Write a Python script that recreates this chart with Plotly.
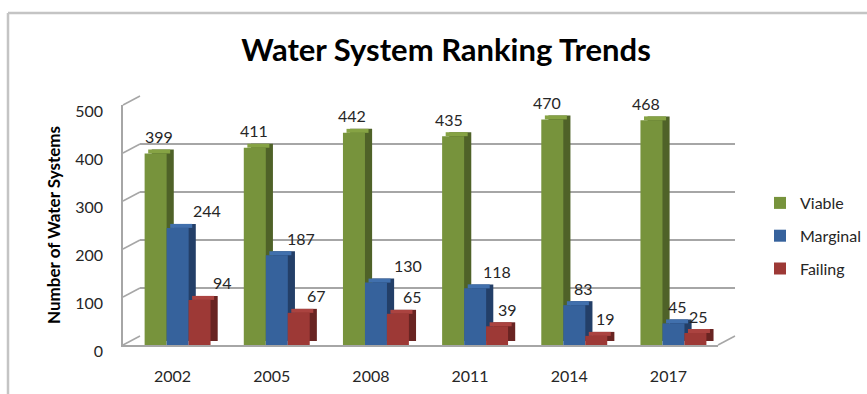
import plotly.graph_objects as go

# ---------------- data ----------------
years = ["2002", "2005", "2008", "2011", "2014", "2017"]
viable = [399, 411, 442, 435, 470, 468]
marginal = [244, 187, 130, 118, 83, 45]
failing = [94, 67, 65, 39, 19, 25]
series_names = ["Viable", "Marginal", "Failing"]
y_ticks = [0, 100, 200, 300, 400, 500]

# ---------------- style ----------------
FONT = "Lato"
front_colors = ["#77933c", "#36629c", "#9d3936"]
top_colors = ["#86a344", "#4170ad", "#ab4340"]
side_colors = ["#4f6228", "#233f68", "#692422"]
bar_offsets = [-0.282, -0.060, 0.161]   # category units
BAR_W = 0.222
DEPTH_X = 0.072                          # category units (~7 px)
DEPTH_Y = 8.3                            # value units (~4 px)
# data-label horizontal placement (px from category centre), per series
label_dx = [
    [-14, -18, -19, -21, -22, -22],
    [34, 29, 37, 27, 14, 9],
    [50, 45, 42, 37, 36, 30],
]
LABEL_DY = 17

# pixel geometry of the "paper" area
L, R, T, B = 123, 132, 96, 49
W, H = 867, 394
PW = W - L - R          # 612
PH = H - T - B          # 249
PX_PER_UNIT = 240 / 500


def px_x(p):
    return (p - L) / PW


def px_y(p):
    return (H - B - p) / PH


fig = go.Figure()

# empty trace so the back-wall grid subplot is rendered
fig.add_trace(go.Scatter(x=[None], y=[None], xaxis="x", yaxis="y",
                         showlegend=False, hoverinfo="skip"))

all_vals = [viable, marginal, failing]
for k, (name, vals) in enumerate(zip(series_names, all_vals)):
    # side (depth) face
    fig.add_trace(go.Bar(
        x=years, y=vals, base=[DEPTH_Y] * len(vals),
        width=BAR_W, offset=bar_offsets[k] + DEPTH_X,
        marker=dict(color=side_colors[k], line=dict(width=0)),
        xaxis="x2", yaxis="y2", showlegend=False, hoverinfo="skip",
        legendgroup=name,
    ))
    # top face
    fig.add_trace(go.Bar(
        x=years, y=[DEPTH_Y] * len(vals), base=vals,
        width=BAR_W, offset=bar_offsets[k] + DEPTH_X / 2,
        marker=dict(color=top_colors[k], line=dict(width=0)),
        xaxis="x2", yaxis="y2", showlegend=False, hoverinfo="skip",
        legendgroup=name,
    ))
    # front face
    fig.add_trace(go.Bar(
        x=years, y=vals, name=name,
        width=BAR_W, offset=bar_offsets[k],
        marker=dict(color=front_colors[k], line=dict(width=0)),
        xaxis="x2", yaxis="y2", legendgroup=name,
    ))

annotations = []
for k, vals in enumerate(all_vals):
    for i, v in enumerate(vals):
        annotations.append(dict(
            x=i, y=v, xref="x2", yref="y2", text=str(v), showarrow=False,
            xshift=label_dx[k][i], yshift=LABEL_DY, yanchor="middle",
            font=dict(family=FONT, size=16, color="#262626"),
        ))

shapes = []
line_col = "#a6a6a6"
# side wall diagonals
for v in y_ticks:
    shapes.append(dict(
        type="line", xref="paper", yref="paper",
        x0=px_x(L), y0=px_y(H - B - v * PX_PER_UNIT),
        x1=px_x(140), y1=px_y(H - B - 9 - v * PX_PER_UNIT),
        line=dict(color=line_col, width=1.5),
    ))
# floor right edge
shapes.append(dict(
    type="line", xref="paper", yref="paper",
    x0=px_x(718), y0=px_y(345), x1=px_x(735), y1=px_y(336),
    line=dict(color=line_col, width=1.5),
))
# outer chart border (left and top)
shapes.append(dict(type="line", xref="paper", yref="paper",
                   x0=px_x(8), y0=px_y(13), x1=px_x(8), y1=px_y(400),
                   line=dict(color="#c4c4c4", width=2.5)))
shapes.append(dict(type="line", xref="paper", yref="paper",
                   x0=px_x(8), y0=px_y(13), x1=px_x(870), y1=px_y(13),
                   line=dict(color="#c4c4c4", width=2.5)))

fig.update_layout(
    width=W, height=H,
    margin=dict(l=L, r=R, t=T, b=B, autoexpand=False),
    paper_bgcolor="white", plot_bgcolor="rgba(0,0,0,0)",
    barmode="overlay",
    font=dict(family=FONT, size=16, color="#262626"),
    title=dict(text="<b>Water System Ranking Trends</b>",
               x=446 / W, xref="container", xanchor="center",
               y=1 - 50 / H, yref="container", yanchor="middle",
               font=dict(family=FONT, size=31, color="#000000")),
    # back-wall grid subplot
    xaxis=dict(domain=[px_x(140), px_x(735)], range=[0, 1], visible=False,
               fixedrange=True, anchor="y"),
    yaxis=dict(domain=[px_y(336), px_y(96)], range=[-0.5, 500.5],
               tickvals=y_ticks, showticklabels=False, showgrid=True,
               gridcolor=line_col, gridwidth=1.5, zeroline=False,
               showline=False, anchor="x", fixedrange=True),
    # bars subplot
    xaxis2=dict(domain=[0, px_x(718)], range=[-0.5, 5.5], type="category",
                anchor="y2", showline=True, linecolor=line_col, linewidth=1.5,
                showgrid=False, ticks="", ticklabelstandoff=16,
                tickfont=dict(family=FONT, size=16, color="#262626")),
    yaxis2=dict(domain=[0, px_y(105)], range=[0, 500], anchor="x2",
                tickvals=y_ticks, showgrid=False, zeroline=False,
                showline=True, linecolor=line_col, linewidth=1.5, ticks="",
                ticklabelstandoff=15, ticklabelshift=6,
                tickfont=dict(family=FONT, size=16, color="#262626"),
                title=dict(text="<b>Number of Water Systems</b>",
                           font=dict(family=FONT, size=17, color="#000000"),
                           standoff=10)),
    legend=dict(x=px_x(760), y=px_y(186), xanchor="left", yanchor="top",
                tracegroupgap=9, font=dict(family=FONT, size=16),
                bgcolor="rgba(0,0,0,0)", itemwidth=30),
    annotations=annotations,
    shapes=shapes,
)

fig.write_html("out.html")
